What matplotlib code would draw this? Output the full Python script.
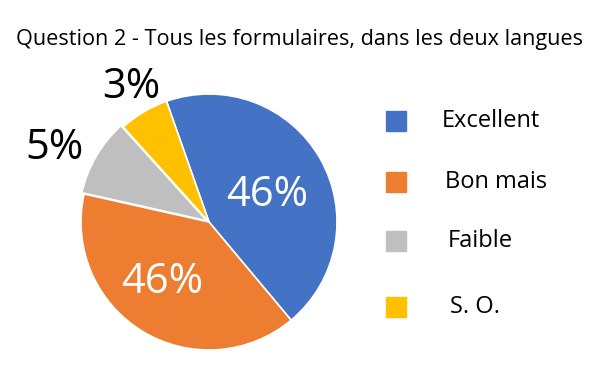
import matplotlib
matplotlib.use("Agg")
import matplotlib.pyplot as plt
from matplotlib.patches import Rectangle

plt.rcParams["font.family"] = ["Open Sans", "DejaVu Sans"]

# data
categories = ["Excellent", "Bon mais", "Faible", "S. O."]
slice_sizes = [44.3, 39.6, 9.8, 6.3]
pct_labels = ["46%", "46%", "5%", "3%"]
colors = ["#4472C4", "#ED7D31", "#BFBFBF", "#FFC000"]
title = "Question 2 - Tous les formulaires, dans les deux langues"

W, H = 600, 367
fig = plt.figure(figsize=(W / 100, H / 100), dpi=100)

# pie centre (209, 222) px from top-left, radius ~128 px
cx, cy, r = 209, 222, 128
ax = fig.add_axes([(cx - r) / W, (H - cy - r) / H, 2 * r / W, 2 * r / H])
wedges, _ = ax.pie(slice_sizes, colors=colors, startangle=109.4, counterclock=False,
                   explode=[0, 0, 0.02, 0],
                   wedgeprops=dict(edgecolor="white", linewidth=1.2))
ax.set_xlim(-1, 1)
ax.set_ylim(-1, 1)
ax.set_aspect("equal")
ax.axis("off")

# percentage labels (pixel positions relative to pie centre)
label_pos = [(267, 195, "white"), (162, 282, "white"), (55, 148, "black"), (131, 87, "black")]
for txt, (px, py, c) in zip(pct_labels, label_pos):
    ax.text((px - cx) / r, (cy - py) / r, txt, ha="center", va="center",
            fontsize=30, color=c, clip_on=False)

fig.text(0.5, 1 - 40 / H, title, ha="center", va="center", fontsize=15.6)

# legend drawn by hand to follow the uneven spacing of the original
leg_y = [121, 182, 241, 307]
leg_text_x = [442, 445, 448, 450]
sq = 20
for name, col, y, tx in zip(categories, colors, leg_y, leg_text_x):
    fig.patches.append(Rectangle((386 / W, (H - y - sq / 2) / H), sq / W, sq / H,
                                 transform=fig.transFigure, color=col))
    fig.text(tx / W, 1 - y / H, name, ha="left", va="center", fontsize=17)

fig.savefig("out.png", dpi=100)
